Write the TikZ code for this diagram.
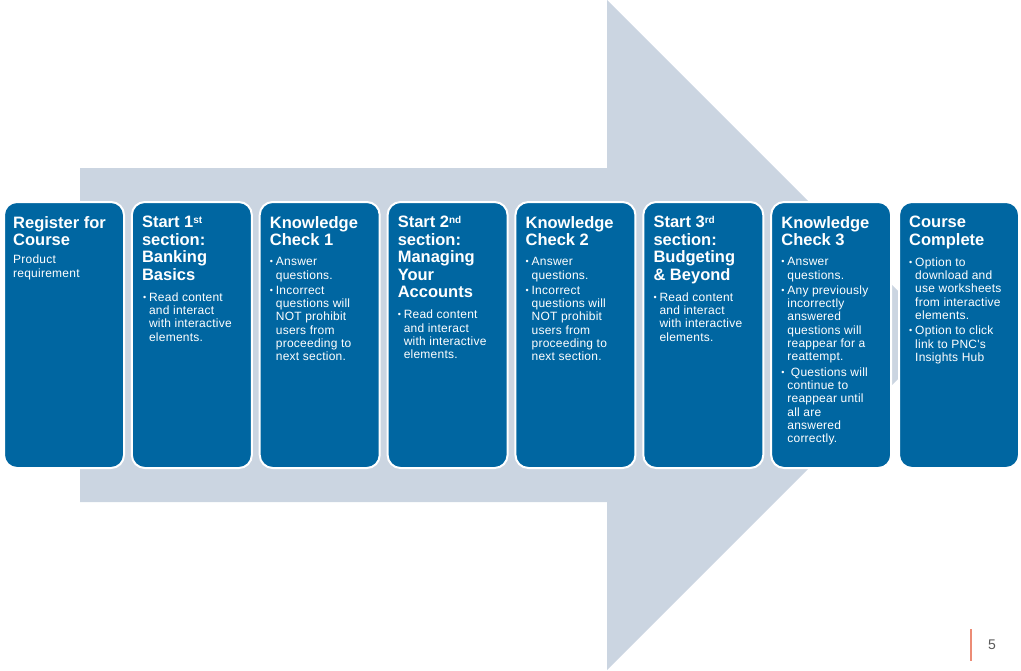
\documentclass[tikz,border=0pt]{standalone}
\usepackage{fontspec}
\setmainfont{Liberation Sans}
\newfontfamily\bodyfam[LetterSpace=2]{Liberation Sans}
\usetikzlibrary{positioning}
\definecolor{pncblue}{RGB}{0,102,161}
\definecolor{arrowgray}{RGB}{203,213,225}
\definecolor{pagegray}{RGB}{89,89,89}
\definecolor{pageline}{RGB}{236,140,118}
\newcommand{\bul}{\makebox[6pt][l]{\fontsize{9}{9}\selectfont\raisebox{0.8pt}{\textbullet}}}
\newcommand{\ind}{\hspace*{6pt}}
\newcommand{\ordsup}[1]{\raisebox{4.5pt}{\fontsize{10}{10}\selectfont #1}}
\tikzset{
    stepbox/.style={rounded corners=13pt,fill=pncblue,draw=white,line width=2pt,
        minimum width=120pt,minimum height=266pt,outer sep=0pt,inner sep=0pt},
    steptitle/.style={anchor=north west,align=left,inner sep=0pt,text=white,
        font=\fontsize{16.5}{17.5}\selectfont\bfseries},
    steptext/.style={anchor=north west,align=left,inner sep=0pt,text=white,
        font=\bodyfam\fontsize{12}{13.3}\selectfont}
}
\begin{document}
\begin{tikzpicture}[x=1pt,y=-1pt]
  \useasboundingbox (0,0) rectangle (1021,670);

  % big arrow behind the steps
  \fill[arrowgray] (80,168) -- (607,168) -- (607,0) -- (942,335)
    -- (607,670) -- (607,502) -- (80,502) -- cycle;

  % step boxes
  \foreach \nm [count=\i from 0] in {reg,sec1,kc1,sec2,kc2,sec3,kc3,done}
    \node[stepbox] (\nm) at (64+127.86*\i,335) {};

  % titles
  \node[steptitle] (reg-t) at ([xshift=9pt,yshift=-14pt]reg.north west)
    {Register for\\Course};
  \node[steptitle] (sec1-t) at ([xshift=10pt,yshift=-14pt]sec1.north west)
    {Start 1\ordsup{st}\\section:\\Banking\\Basics};
  \node[steptitle] (kc1-t) at ([xshift=10pt,yshift=-14pt]kc1.north west)
    {Knowledge\\Check 1};
  \node[steptitle] (sec2-t) at ([xshift=10pt,yshift=-14pt]sec2.north west)
    {Start 2\ordsup{nd}\\section:\\Managing\\Your\\Accounts};
  \node[steptitle] (kc2-t) at ([xshift=10pt,yshift=-14pt]kc2.north west)
    {Knowledge\\Check 2};
  \node[steptitle] (sec3-t) at ([xshift=10pt,yshift=-14pt]sec3.north west)
    {Start 3\ordsup{rd}\\section:\\Budgeting\\\& Beyond};
  \node[steptitle] (kc3-t) at ([xshift=10pt,yshift=-14pt]kc3.north west)
    {Knowledge\\Check 3};
  \node[steptitle] (done-t) at ([xshift=10pt,yshift=-14pt]done.north west)
    {Course\\Complete};

  % body texts
  \node[steptext] (reg-b) at ([xshift=9pt,yshift=-52.8pt]reg.north west)
    {Product\\requirement};
  \node[steptext] (sec1-b) at ([xshift=11pt,yshift=-90.3pt]sec1.north west)
    {\bul Read content\\\ind and interact\\\ind with interactive\\\ind elements.};
  \node[steptext] (kc1-b) at ([xshift=10pt,yshift=-55.3pt]kc1.north west)
    {\bul Answer\\\ind questions.\\[2pt]
     \bul Incorrect\\\ind questions will\\\ind NOT prohibit\\\ind users from\\\ind proceeding to\\\ind next section.};
  \node[steptext] (sec2-b) at ([xshift=10pt,yshift=-107.8pt]sec2.north west)
    {\bul Read content\\\ind and interact\\\ind with interactive\\\ind elements.};
  \node[steptext] (kc2-b) at ([xshift=10pt,yshift=-55.3pt]kc2.north west)
    {\bul Answer\\\ind questions.\\[2pt]
     \bul Incorrect\\\ind questions will\\\ind NOT prohibit\\\ind users from\\\ind proceeding to\\\ind next section.};
  \node[steptext] (sec3-b) at ([xshift=10pt,yshift=-90.3pt]sec3.north west)
    {\bul Read content\\\ind and interact\\\ind with interactive\\\ind elements.};
  \node[steptext] (kc3-b) at ([xshift=10pt,yshift=-55.3pt]kc3.north west)
    {\bul Answer\\\ind questions.\\[2pt]
     \bul Any previously\\\ind incorrectly\\\ind answered\\\ind questions will\\\ind reappear for a\\\ind reattempt.\\[2pt]
     \bul\ Questions will\\\ind continue to\\\ind reappear until\\\ind all are\\\ind answered\\\ind correctly.};
  \node[steptext] (done-b) at ([xshift=10pt,yshift=-55.3pt]done.north west)
    {\bul Option to\\\ind download and\\\ind use worksheets\\\ind from interactive\\\ind elements.\\[2pt]
     \bul Option to click\\\ind link to PNC's\\\ind Insights Hub};

  % page number
  \draw[pageline,line width=1.2pt] (971,629) -- (971,661);
  \node[text=pagegray,font=\fontsize{14}{14}\selectfont] (pnum) at (992,645) {5};
\end{tikzpicture}
\end{document}
